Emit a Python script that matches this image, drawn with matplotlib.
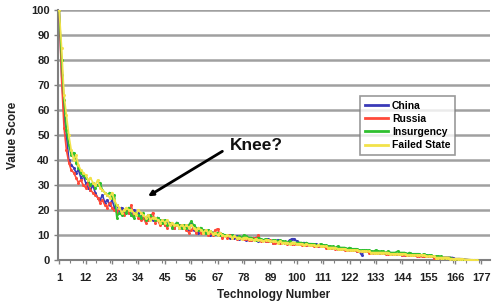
import matplotlib
matplotlib.use("Agg")
import matplotlib.pyplot as plt
from matplotlib.ticker import MultipleLocator, FixedLocator

china = [
    100, 74, 58, 50, 40, 38, 37, 35, 36, 33,
    34, 31, 29, 28, 30, 27, 25, 24, 26, 23,
    24, 22, 24, 21, 22, 20, 21, 19, 20, 19,
    18, 20, 18, 19, 17, 18, 16, 18, 17, 16,
    16, 17, 15, 16, 14, 15, 15, 14, 13, 15,
    13, 14, 13, 14, 12, 15, 12, 13, 11, 12,
    12, 11, 12, 10, 11, 11, 10, 11, 9.5, 10,
    10, 9, 10, 9, 9.5, 8.5, 9, 9.5, 8, 9,
    8, 8.5, 9, 7.5, 8, 8, 7.5, 8.5, 7.5, 7,
    7.5, 8, 7, 7.5, 7, 7, 8, 8.5, 8.5, 7.5,
    7, 6.5, 7, 6, 6.5, 6.5, 6, 6.5, 5.5, 6,
    6, 5.5, 5.5, 5, 5, 5, 4.5, 5, 4.5, 4.5,
    4.5, 4, 4, 4, 3.5, 3.5, 2, 3.5, 3.5, 3.5,
    3.5, 3, 3.5, 3, 3, 3, 3, 3, 3, 2.5,
    2.5, 2.5, 2.5, 2, 2, 2, 2, 2, 2, 2,
    2, 2, 1.5, 2, 1.5, 1.5, 1.5, 1.5, 1, 1,
    1, 1, 1, 1, 1, 0.5, 0.5, 0.5, 0.5, 0.2,
    0.2, 0.1, 0, 0, 0,
]

russia = [
    100, 72, 53, 44, 39, 36, 35, 33, 31, 32,
    30, 29, 31, 28, 27, 26, 25, 23, 24, 22,
    21, 23, 21, 20, 19, 21, 19, 18, 20, 19,
    22, 18, 19, 17, 16, 17, 15, 16, 17, 19,
    15, 16, 14, 15, 14, 13, 15, 14, 13, 14,
    14, 13, 14, 12, 11, 12, 13, 11, 12, 11,
    11, 12, 10, 11, 10, 12, 12.5, 10, 9, 10,
    9, 10, 9, 9.5, 8.5, 9, 9, 8.5, 8.5, 8,
    8, 9, 8.5, 10, 7.5, 8, 7.5, 7.5, 8, 7,
    7, 7.5, 7, 7.5, 7, 6.5, 7, 6.5, 6.5, 6.5,
    6.5, 6, 6.5, 6, 6, 6, 5.5, 6, 5.5, 5.5,
    5.5, 5, 5, 5, 5, 4.5, 4.5, 4.5, 4.5, 4,
    4, 4, 4, 4, 3.5, 3.5, 3.5, 3.5, 3.5, 3,
    3, 3, 3, 3, 3, 3, 2.5, 2.5, 2.5, 2.5,
    2.5, 2.5, 2.5, 2, 2, 2, 2, 2, 2, 1.5,
    1.5, 1.5, 1.5, 1.5, 1.5, 1.5, 1, 1, 1, 1,
    1, 1, 1, 1, 0.5, 0.5, 0.5, 0.5, 0.2, 0.2,
    0.1, 0, 0, 0, 0,
]

insurgency = [
    100, 80, 64, 52, 46, 42, 43, 39, 37, 35,
    34, 33, 32, 30, 31, 29, 30, 31, 28, 27,
    26, 27, 25, 26, 17, 19, 18, 20, 19, 21,
    18, 17, 19, 18, 17, 19, 16, 17, 18, 17,
    16, 17, 16, 15, 16, 14, 15, 13, 14, 15,
    14, 13, 14, 13, 14, 15.5, 14, 13, 12, 13,
    12, 11, 12, 11.5, 11, 10.5, 11, 10, 10.5, 10,
    10, 9.5, 10, 9.5, 9, 9.5, 9, 10, 9.5, 9,
    9, 8.5, 8, 9, 8.5, 8, 8.5, 8, 7.5, 8,
    8, 7.5, 8, 7.5, 7.5, 7, 7.5, 7, 7, 7,
    7, 7, 6.5, 7, 6.5, 6.5, 6.5, 6, 6, 6.5,
    6, 6, 5.5, 5.5, 5.5, 5, 5.5, 5, 5, 5,
    4.5, 5, 4.5, 4.5, 4.5, 4, 4, 4, 4, 4,
    3.5, 3.5, 4, 3.5, 3.5, 3.5, 3, 3.5, 3, 3,
    3, 3.5, 3, 3, 3, 2.5, 3, 2.5, 2.5, 2.5,
    2.5, 2, 2.5, 2, 2, 2, 1.5, 1.5, 1.5, 1.5,
    1, 1, 1, 1, 0.5, 0.5, 0.5, 0.5, 0.2, 0.2,
    0.1, 0, 0, 0, 0,
]

failed_state = [
    100, 85, 66, 58, 50, 44, 40, 42, 38, 36,
    35, 34, 32, 33, 31, 30, 32, 29, 28, 27,
    26, 25, 27, 24, 22, 21, 19, 20, 21, 20,
    20, 19, 18, 20, 19, 18, 17, 18, 16, 17,
    17, 16, 15, 16, 15, 16, 14, 15, 14, 14,
    13, 14, 13, 14, 13, 14, 13, 12, 13, 12,
    11, 12, 11, 11.5, 10.5, 11, 10, 11, 10, 9.5,
    10, 9.5, 9, 9.5, 9, 9, 8.5, 9, 9, 8.5,
    8.5, 8, 8.5, 8, 8, 7.5, 8, 8, 7.5, 7.5,
    7.5, 7, 7.5, 7, 7, 7, 6.5, 7, 7, 6.5,
    6.5, 6.5, 6, 6.5, 6, 6, 6, 5.5, 6, 5.5,
    5.5, 5.5, 5, 5, 5, 5, 4.5, 4.5, 4.5, 4.5,
    4, 4, 4, 4, 4, 3.5, 3.5, 3.5, 3.5, 3.5,
    3, 3, 3, 3, 3, 3, 3, 3, 2.5, 2.5,
    2.5, 2.5, 2.5, 2.5, 2.5, 2, 2, 2, 2, 2,
    2, 2, 2, 1.5, 1.5, 1.5, 1.5, 1, 1, 1,
    1, 1, 1, 0.5, 0.5, 0.5, 0.5, 0.5, 0.5, 0.2,
    0.2, 0.2, 0.1, 0, 0,
]

series_names = ["China", "Russia", "Insurgency", "Failed State"]
series_values = [china, russia, insurgency, failed_state]
series_colors = ["#3a3ab8", "#ff4a3a", "#2fc02f", "#f2e24a"]
x_tick_labels = [1, 12, 23, 34, 45, 56, 67, 78, 89, 100, 111, 122, 133, 144, 155, 166, 177]
n_categories = 180

plt.rcParams['font.family'] = ['Liberation Sans', 'DejaVu Sans']

fig = plt.figure(figsize=(4.93, 3.04), dpi=100)
ax = fig.add_axes([0.1177, 0.1447, 0.876, 0.822])

for name, vals, col in zip(series_names, series_values, series_colors):
    xs = list(range(1, len(vals) + 1))
    ax.plot(xs, vals, color=col, lw=1.2, marker='o', markersize=2.2,
            markeredgewidth=0, label=name, zorder=3)

ax.set_xlim(0.5, n_categories + 0.5)
ax.set_ylim(0, 100)
ax.yaxis.set_major_locator(MultipleLocator(10))
ax.xaxis.set_major_locator(FixedLocator(x_tick_labels))
ax.xaxis.set_minor_locator(MultipleLocator(5.5))
ax.grid(axis='y', color='#a0a0a0', lw=1.8, zorder=1)
ax.set_axisbelow(True)

for s in ['top', 'right']:
    ax.spines[s].set_visible(False)
for s in ['left', 'bottom']:
    ax.spines[s].set_color('#808080')
    ax.spines[s].set_linewidth(1.5)

ax.tick_params(axis='both', which='major', labelsize=8, length=3, width=1,
               color='#808080', pad=3)
ax.tick_params(axis='x', which='major', pad=6)
ax.tick_params(axis='x', which='minor', length=2, width=0.8, color='#808080')
for lab in ax.get_xticklabels() + ax.get_yticklabels():
    lab.set_fontweight('bold')
    lab.set_color('#222222')

ax.set_xlabel("Technology Number", fontsize=8.5, fontweight='bold', labelpad=5, color='#222222')
ax.set_ylabel("Value Score", fontsize=8.5, fontweight='bold', labelpad=9, color='#222222')

leg = ax.legend(loc='upper left', bbox_to_anchor=(0.70, 0.656), fontsize=7.5,
                frameon=True, fancybox=False, edgecolor='#808080',
                handlelength=2.2, handletextpad=0.4, borderpad=0.45,
                labelspacing=0.3, borderaxespad=0)
leg.get_frame().set_linewidth(1.2)
for t in leg.get_texts():
    t.set_fontweight('bold')
for h in leg.get_lines():
    h.set_marker('')
    h.set_linewidth(2)

ax.annotate("", xy=(38, 25.5), xytext=(69, 43.5),
            arrowprops=dict(arrowstyle='-|>', color='black', lw=2,
                            mutation_scale=7, shrinkA=0, shrinkB=0), zorder=5)
ax.text(72, 46, "Knee?", fontsize=12.5, fontweight='bold', color='#111111',
        ha='left', va='center', zorder=5)

fig.savefig("out.png", dpi=100)
